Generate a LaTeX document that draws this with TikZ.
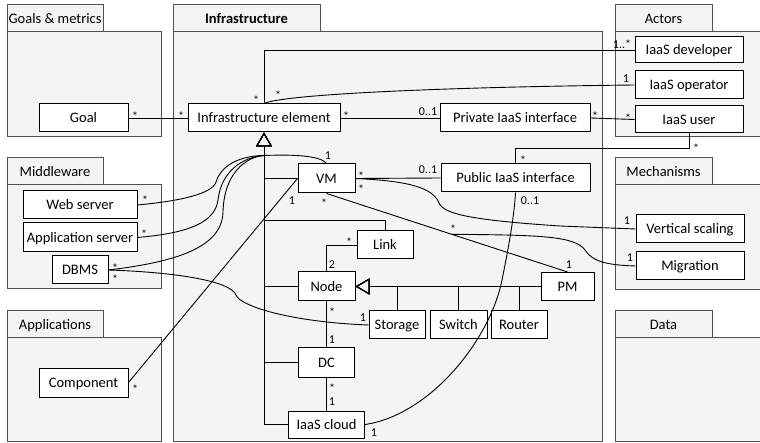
\documentclass[tikz,border=0pt]{standalone}
\usepackage{fontspec}
\setmainfont{Carlito}
\usetikzlibrary{arrows.meta,calc}
\definecolor{pkgfill}{RGB}{244,244,244}
\definecolor{pkgline}{RGB}{80,80,80}
\begin{document}
\begin{tikzpicture}[x=1pt,y=-1pt,
  pkg/.style={draw=pkgline, fill=pkgfill, line width=1pt},
  pkgtitle/.style={font=\fontsize{14.5}{17}\selectfont, inner sep=0, text height=9.3pt, text depth=0pt},
  cls/.style={draw, fill=white, line width=1pt, inner sep=0,
    font=\fontsize{14.5}{17}\selectfont, text height=9.3pt, text depth=0pt},
  assoc/.style={line width=0.9pt},
  gen/.style={line width=1pt, -{Triangle[open, length=14pt, width=16pt]}},
  mult/.style={font=\fontsize{12}{14}\selectfont, inner sep=0, anchor=base},
  star/.style={mult, yshift=-6.5pt},
  num/.style={mult, yshift=-4pt}
]
\useasboundingbox (0,0) rectangle (760,443);

% ---------- packages ----------
\draw[pkg] (7,32) rectangle (161,137);
\draw[pkg] (7,5) rectangle (103,32);
\node[pkgtitle] (tgoals) at (55,18.5) {Goals \& metrics};

\draw[pkg] (173,32) rectangle (602,441);
\draw[pkg] (173,5) rectangle (320,32);
\node[pkgtitle] (tinfra) at (246.5,18.5) {\bfseries Infrastructure};

\draw[pkg] (615,32) rectangle (765,137);
\draw[pkg] (615,5) rectangle (712,32);
\node[pkgtitle] (tactors) at (663.5,18.5) {Actors};

\draw[pkg] (7,185) rectangle (161,289);
\draw[pkg] (7,158) rectangle (103,185);
\node[pkgtitle] (tmw) at (55,171.5) {Middleware};

\draw[pkg] (615,185) rectangle (765,290);
\draw[pkg] (615,158) rectangle (712,185);
\node[pkgtitle] (tmech) at (663.5,171.5) {Mechanisms};

\draw[pkg] (7,338) rectangle (161,441);
\draw[pkg] (7,311) rectangle (103,338);
\node[pkgtitle] (tapps) at (55,324.5) {Applications};

\draw[pkg] (615,338) rectangle (765,441);
\draw[pkg] (615,311) rectangle (712,338);
\node[pkgtitle] (tdata) at (663.5,324.5) {Data};

% ---------- classes ----------
\node[cls, minimum width=89pt, minimum height=28pt] (goal) at (83.5,118) {Goal};
\node[cls, minimum width=152pt, minimum height=28pt] (ie) at (264,118) {Infrastructure element};
\node[cls, minimum width=150pt, minimum height=28pt] (priv) at (515,118) {Private IaaS interface};
\node[cls, minimum width=108pt, minimum height=26pt] (dev) at (689,50) {IaaS developer};
\node[cls, minimum width=108pt, minimum height=28pt] (opr) at (689,85) {IaaS operator};
\node[cls, minimum width=108pt, minimum height=27pt] (user) at (689,119.5) {IaaS user};
\node[cls, minimum width=114pt, minimum height=28pt] (web) at (80,205) {Web server};
\node[cls, minimum width=114pt, minimum height=29pt] (app) at (80,237.5) {Application server};
\node[cls, minimum width=56pt, minimum height=28pt] (dbms) at (80,270) {DBMS};
\node[cls, minimum width=57pt, minimum height=29pt] (vm) at (326.5,178.5) {VM};
\node[cls, minimum width=149pt, minimum height=28pt] (pub) at (515.5,178) {Public IaaS interface};
\node[cls, minimum width=56pt, minimum height=28pt] (link) at (385,245) {Link};
\node[cls, minimum width=57pt, minimum height=29pt] (nd) at (326.5,286.5) {Node};
\node[cls, minimum width=53pt, minimum height=28pt] (pm) at (567.5,286.5) {PM};
\node[cls, minimum width=56pt, minimum height=28pt] (sto) at (397,325) {Storage};
\node[cls, minimum width=57pt, minimum height=28pt] (sw) at (458.5,325) {Switch};
\node[cls, minimum width=56pt, minimum height=28pt] (rt) at (519,325) {Router};
\node[cls, minimum width=56pt, minimum height=29pt] (dc) at (326.5,362.5) {DC};
\node[cls, minimum width=76pt, minimum height=27pt] (cloud) at (326.5,424.5) {IaaS cloud};
\node[cls, minimum width=89pt, minimum height=29pt] (comp) at (83.5,382.5) {Component};
\node[cls, minimum width=108pt, minimum height=28pt] (vs) at (690,229) {Vertical scaling};
\node[cls, minimum width=108pt, minimum height=28pt] (mig) at (690,266) {Migration};

% ---------- generalizations ----------
\draw[gen] (vm.west) -| (ie.south);
\draw[gen] (link.north) -- ([yshift=10pt]link.north) -| (ie.south);
\draw[gen] (nd.west) -| (ie.south);
\draw[gen] (dc.west) -| (ie.south);
\draw[gen] (cloud.west) -| (ie.south);
\draw[gen] (pm.west) -- (nd.east);
\draw[gen] (sto.north) |- (nd.east);
\draw[gen] (sw.north) |- (nd.east);
\draw[gen] (rt.north) |- (nd.east);

% ---------- associations ----------
\draw[assoc] (goal.east) -- (ie.west);
\draw[assoc] (ie.north) |- (dev.west);
\draw[assoc] (ie.north) .. controls (285,94) and (450,87) .. (opr.west);
\draw[assoc] (ie.east) -- (priv.west);
\draw[assoc] (priv.east) -- (user.west);
\draw[assoc] (user.south) |- ([yshift=15pt]pub.north) -- (pub.north);
\draw[assoc] (vm.east) -- (pub.west);
\draw[assoc] (vm.east) .. controls (410,181) and (433,188) .. (439,203)
  .. controls (444,214) and (470,220) .. (560,226) -- (vs.west);
\draw[assoc] (vm.south) -- (pm.north);
\coordinate (migstart) at ($(vm.south)!0.52!(pm.north)$);
\draw[assoc] (migstart) .. controls (540,235) and (575,236) .. (585,250)
  .. controls (592,261) and (605,265) .. (mig.west);

\coordinate (mwjoin) at (264,155.5);
\draw[assoc] (web.east) .. controls (180,201) and (212,194) .. (216,182)
  .. controls (221,166) and (238,156) .. (mwjoin)
  .. controls (290,154.5) and (320,155) .. (vm.north);
\draw[assoc] (app.east) .. controls (190,233) and (215,222) .. (218,200)
  .. controls (221,172) and (242,157) .. (mwjoin);
\draw[assoc] (dbms.east) .. controls (175,262) and (222,248) .. (223,212)
  .. controls (224,174) and (245,157) .. (mwjoin);
\draw[assoc] (dbms.east) .. controls (170,272) and (230,280) .. (236,295)
  .. controls (240,306) and (290,322) .. (sto.west);
\draw[assoc] (comp.east) -- (vm.west);
\draw[assoc] (cloud.east) .. controls (430,415) and (490,340) .. (502,280)
  .. controls (507,255) and (514,220) .. (pub.south);
\draw[assoc] (link.west) -| (nd.north);
\draw[assoc] (nd.south) -- (dc.north);
\draw[assoc] (dc.south) -- (cloud.north);

% ---------- multiplicities ----------
\node[star] (m01) at (135,114) {*};
\node[star] (m02) at (181,114) {*};
\node[star] (m03) at (256,98) {*};
\node[num]  (m04) at (622,45) {1..*};
\node[star] (m05) at (278,93) {*};
\node[num]  (m06) at (626,79) {1};
\node[star] (m07) at (346,114) {*};
\node[num]  (m08) at (428,112) {0..1};
\node[star] (m09) at (595,114) {*};
\node[star] (m10) at (628,116) {*};
\node[star] (m11) at (696,146) {*};
\node[star] (m12) at (523,158) {*};
\node[star] (m13) at (361,174) {*};
\node[num]  (m14) at (428,170) {0..1};
\node[star] (m15) at (361,187) {*};
\node[num]  (m16) at (627,221) {1};
\node[star] (m17) at (324,201) {*};
\node[num]  (m18) at (569,265) {1};
\node[star] (m19) at (453,227) {*};
\node[num]  (m20) at (630,258) {1};
\node[star] (m21) at (145,198) {*};
\node[star] (m22) at (144,232) {*};
\node[star] (m23) at (115,266) {*};
\node[num]  (m24) at (328,156) {1};
\node[star] (m25) at (115,277) {*};
\node[num]  (m26) at (363,318) {1};
\node[star] (m27) at (349,240) {*};
\node[num]  (m28) at (332,265) {2};
\node[star] (m29) at (332,310) {*};
\node[num]  (m30) at (332,340) {1};
\node[star] (m31) at (332,386) {*};
\node[num]  (m32) at (332,401) {1};
\node[star] (m33) at (135,387) {*};
\node[num]  (m34) at (292,201) {1};
\node[num]  (m35) at (374,432) {1};
\node[num]  (m36) at (530,201) {0..1};
\end{tikzpicture}
\end{document}
